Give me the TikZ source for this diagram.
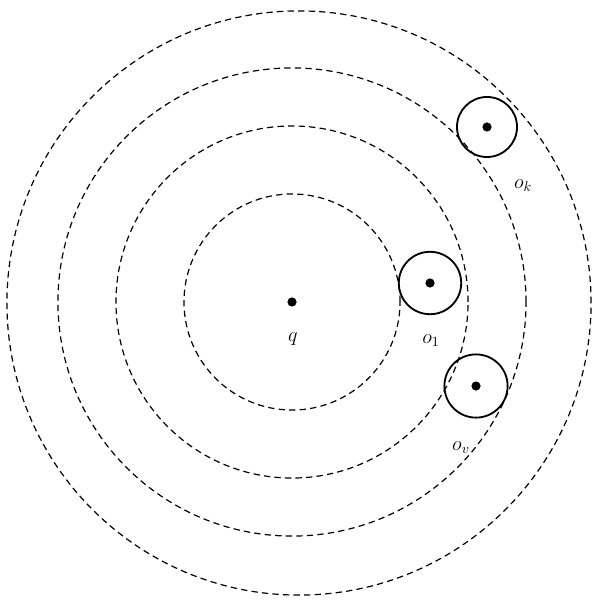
\documentclass[tikz,border=0pt]{standalone}
\begin{document}
\begin{tikzpicture}[x=0.025cm,y=-0.025cm,
  orbit/.style={black, dash pattern=on 4.5pt off 3pt, line width=0.85pt},
  ball/.style={black, line width=1.3pt},
  dot/.style={circle, fill=black, inner sep=0pt, minimum size=0.23cm},
  lab/.style={font=\Large}]
\useasboundingbox (0,0) rectangle (592,603);
% centre and dashed orbits
\node[dot] (q) at (292,302) {};
\foreach \r in {2.7,4.4,5.85}
  \draw[orbit] (q) circle[radius=\r cm];
\coordinate (rim) at (299,303);
\draw[orbit] (rim) circle[radius=7.3cm];
% small balls
\node[dot] (o1) at (430,283) {};
\node[dot] (ov) at (476,386) {};
\node[dot] (ok) at (487,127) {};
\draw[ball] (o1) circle[radius=0.78cm];
\draw[ball] (ov) circle[radius=0.79cm];
\draw[ball] (ok) circle[radius=0.75cm];
% labels
\node[lab] (ql) at (293,339) {$q$};
\node[lab] (o1l) at (431,341) {$o_1$};
\node[lab] (ovl) at (461,448) {$o_v$};
\node[lab] (okl) at (523,186) {$o_k$};
\end{tikzpicture}
\end{document}
